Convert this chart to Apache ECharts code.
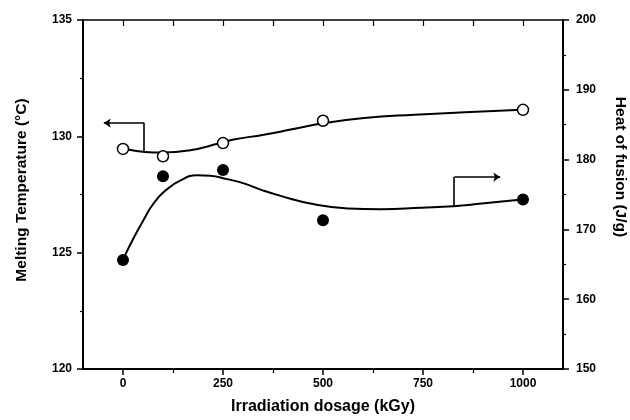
<!DOCTYPE html>
<html>
<head>
<meta charset="utf-8">
<script src="https://cdn.jsdelivr.net/npm/echarts@6/dist/echarts.min.js"></script>
<style>html,body{margin:0;padding:0;background:#fff;}#c{width:630px;height:420px;}</style>
</head>
<body>
<div id="c"></div>
<script>
// Measured points
const dose = [0, 100, 250, 500, 1000];
const meltTemp = [129.46, 129.14, 129.71, 130.67, 131.14];
const heatFusion = [165.6, 177.6, 178.5, 171.3, 174.3];
// Fitted curves
const meltFitDose = [12.6, 54.6, 100, 167.7, 238.9, 276.6, 352, 419, 503, 603, 729, 855, 997];
const meltFitTemp = [129.43, 129.33, 129.30, 129.40, 129.69, 129.86, 130.07, 130.29, 130.57, 130.79, 130.93, 131.03, 131.14];
const heatFitDose = [4.3, 25, 50, 75, 109, 142.6, 184.6, 218, 260, 302, 344, 394, 478, 562, 645, 746, 826, 897, 998];
const heatFitVal = [166.2, 168.6, 171.2, 173.6, 175.7, 177.0, 177.76, 177.7, 177.2, 176.6, 175.7, 174.8, 173.6, 173.0, 172.9, 173.1, 173.3, 173.7, 174.3];
// Arrow annotations (data coordinates): stem, then arrow-headed segment
const leftArrowStem = [[53, 129.36], [53, 130.57]];
const leftArrowHead = [[53, 130.57], [-48, 130.57]];
const rightArrowStem = [[828, 173.3], [828, 177.5]];
const rightArrowHead = [[828, 177.5], [943, 177.5]];
// Tick labels
const xLabels = [0, 250, 500, 750, 1000];
const xMinorTicks = [125, 375, 625, 875];
const xTopTicks = [0, 125, 250, 375, 500, 625, 750, 875, 1000];

const FONT = "'Liberation Sans', Arial, sans-serif";
const pair = (xs, ys) => xs.map((x, i) => [x, ys[i]]);

const chart = echarts.init(document.getElementById('c'), null, {renderer: 'canvas'});
const lbl = {color: '#000', fontFamily: FONT, fontWeight: 'bold', fontSize: 12};
const seg = (stem, yIdx, withHead) => ({
  type: 'lines', coordinateSystem: 'cartesian2d', xAxisIndex: 0, yAxisIndex: yIdx,
  symbol: withHead ? ['none', 'arrow'] : ['none', 'none'], symbolSize: 7,
  lineStyle: {color: '#000', width: 1.6, opacity: 1, curveness: 0},
  data: [{coords: stem}], z: 3
});
chart.setOption({
  animation: false,
  backgroundColor: '#fff',
  grid: {left: 83, right: 67, top: 20, bottom: 50},
  xAxis: [
    {
      type: 'value', min: -100, max: 1100, position: 'bottom',
      axisLine: {show: true, onZero: false, lineStyle: {color: '#000', width: 1.8}},
      axisTick: {show: true, customValues: xLabels, length: 6, lineStyle: {color: '#000', width: 1.5}},
      axisLabel: Object.assign({customValues: xLabels, margin: 9, formatter: v => String(v)}, lbl),
      splitLine: {show: false},
      name: 'Irradiation dosage (kGy)', nameLocation: 'middle', nameGap: 30,
      nameTextStyle: {color: '#000', fontFamily: FONT, fontWeight: 'bold', fontSize: 16}
    },
    {
      type: 'value', min: -100, max: 1100, position: 'bottom',
      axisLine: {show: false, onZero: false},
      axisTick: {show: true, customValues: xMinorTicks, length: 4, lineStyle: {color: '#000', width: 1.2}},
      axisLabel: {show: false},
      splitLine: {show: false}
    },
    {
      type: 'value', min: -100, max: 1100, position: 'top',
      axisLine: {show: true, onZero: false, lineStyle: {color: '#000', width: 1.5}},
      axisTick: {show: true, inside: true, customValues: xTopTicks, length: 6, lineStyle: {color: '#000', width: 1.2}},
      axisLabel: {show: false},
      splitLine: {show: false}
    }
  ],
  yAxis: [
    {
      type: 'value', min: 120, max: 135, interval: 5, position: 'left',
      axisLine: {show: true, onZero: false, lineStyle: {color: '#000', width: 2}},
      axisTick: {show: true, length: 6, lineStyle: {color: '#000', width: 1.5}},
      minorTick: {show: true, splitNumber: 2, length: 3, lineStyle: {color: '#000', width: 1.2}},
      axisLabel: Object.assign({margin: 11}, lbl),
      splitLine: {show: false}
    },
    {
      type: 'value', min: 150, max: 200, interval: 10, position: 'right',
      axisLine: {show: true, onZero: false, lineStyle: {color: '#000', width: 2}},
      axisTick: {show: true, length: 6, lineStyle: {color: '#000', width: 1.5}},
      minorTick: {show: true, splitNumber: 2, length: 3, lineStyle: {color: '#000', width: 1.2}},
      axisLabel: Object.assign({margin: 13}, lbl),
      splitLine: {show: false}
    }
  ],
  graphic: [
    {type: 'text', x: 22, y: 190, rotation: Math.PI / 2,
     style: {text: 'Melting Temperature (°C)', fill: '#000', font: "bold 15.5px " + FONT, textAlign: 'center', textVerticalAlign: 'middle'}},
    {type: 'text', x: 620, y: 167, rotation: -Math.PI / 2,
     style: {text: 'Heat of fusion (J/g)', fill: '#000', font: "bold 15.5px " + FONT, textAlign: 'center', textVerticalAlign: 'middle'}}
  ],
  series: [
    {type: 'line', xAxisIndex: 0, yAxisIndex: 0, data: pair(meltFitDose, meltFitTemp), smooth: 0.5,
     showSymbol: false, symbol: 'none', lineStyle: {color: '#000', width: 2}, z: 2},
    {type: 'line', xAxisIndex: 0, yAxisIndex: 1, data: pair(heatFitDose, heatFitVal), smooth: 0.5,
     showSymbol: false, symbol: 'none', lineStyle: {color: '#000', width: 2}, z: 2},
    seg(leftArrowStem, 0, false),
    seg(leftArrowHead, 0, true),
    seg(rightArrowStem, 1, false),
    seg(rightArrowHead, 1, true),
    {type: 'scatter', xAxisIndex: 0, yAxisIndex: 0, data: pair(dose, meltTemp), symbol: 'circle', symbolSize: 11,
     itemStyle: {color: '#fff', borderColor: '#000', borderWidth: 1.5, opacity: 1}, z: 5},
    {type: 'scatter', xAxisIndex: 0, yAxisIndex: 1, data: pair(dose, heatFusion), symbol: 'circle', symbolSize: 12,
     itemStyle: {color: '#000', borderColor: '#000', borderWidth: 0, opacity: 1}, z: 5}
  ]
});
</script>
</body>
</html>
